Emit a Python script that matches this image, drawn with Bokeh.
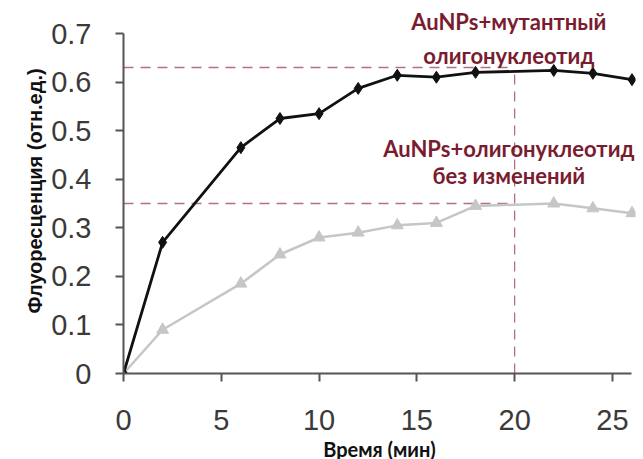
from bokeh.plotting import figure
from bokeh.models import Range1d, Label, FixedTicker
from bokeh.embed import file_html
from bokeh.resources import INLINE

# Data
time_min = [0, 2, 6, 8, 10, 12, 14, 16, 18, 22, 24, 26]
mutant = [0.0, 0.27, 0.465, 0.525, 0.535, 0.587, 0.614, 0.61, 0.62, 0.624, 0.618, 0.605]
unchanged = [0.0, 0.09, 0.185, 0.245, 0.28, 0.29, 0.305, 0.31, 0.345, 0.35, 0.34, 0.33]
ref_mutant = 0.63
ref_unchanged = 0.35
ref_time = 20
x_ticks = [0, 5, 10, 15, 20, 25]
y_ticks = [0, 0.1, 0.2, 0.3, 0.4, 0.5, 0.6, 0.7]
label_mutant = ["AuNPs+мутантный", "олигонуклеотид"]
label_unchanged = ["AuNPs+олигонуклеотид", "без изменений"]

p = figure(frame_width=512, frame_height=365, output_backend="svg", toolbar_location=None,
           x_range=Range1d(0, 26.18), y_range=Range1d(0, 0.7515),
           min_border_left=123, min_border_right=6, min_border_top=8, min_border_bottom=0)
p.outline_line_color = None
p.background_fill_color = "white"
p.xgrid.visible = False
p.ygrid.visible = False

axis_color = "#555555"
for ax in (p.xaxis[0], p.yaxis[0]):
    ax.axis_line_color = axis_color
    ax.axis_line_width = 2
    ax.major_tick_line_color = axis_color
    ax.major_tick_line_width = 2
    ax.major_tick_out = 8
    ax.major_tick_in = 0
    ax.minor_tick_line_color = None
    ax.major_label_text_font = "Liberation Sans"
    ax.major_label_text_font_size = "29px"
    ax.major_label_text_color = "#3a3a3a"
    ax.axis_label_text_font = "Liberation Sans"
    ax.axis_label_text_font_style = "bold"
    ax.axis_label_text_color = "#111111"

p.xaxis.bounds = (0, 26)
p.yaxis.bounds = (0, 0.7)
p.xaxis.ticker = FixedTicker(ticks=x_ticks)
p.yaxis.ticker = FixedTicker(ticks=y_ticks)
p.yaxis.major_label_overrides = {0: "0"}
p.xaxis.major_label_standoff = 28
p.yaxis.major_label_standoff = 24

p.xaxis.axis_label = "Время (мин)"
p.xaxis.axis_label_text_font = "Lato"
p.xaxis.axis_label_text_font_size = "20px"
p.xaxis.axis_label_standoff = 4
p.yaxis.axis_label = "Флуоресценция (отн.ед.)"
p.yaxis.axis_label_text_font_size = "20px"
p.yaxis.axis_label_standoff = 2

# reference dashed lines
dash_color = "#b5707e"
p.segment(x0=[0, 0], y0=[ref_mutant, ref_unchanged], x1=[ref_time, ref_time],
          y1=[ref_mutant, ref_unchanged], line_color=dash_color, line_width=1.3,
          line_dash="10 7")
p.segment(x0=[ref_time], y0=[0], x1=[ref_time], y1=[ref_mutant],
          line_color=dash_color, line_width=1.3, line_dash="10 7")

# series
p.line(time_min, unchanged, line_color="#c6c6c6", line_width=2.5)
p.scatter(time_min, unchanged, marker="triangle", size=12, fill_color="#c6c6c6",
          line_color="#c6c6c6")
p.line(time_min, mutant, line_color="#111111", line_width=2.8)
p.scatter(time_min, mutant, marker="diamond", size=12, fill_color="#111111",
          line_color="#111111")

text_color = "#7a1c30"
ys = [0.7243, 0.6543, 0.4628, 0.4072]
texts = label_mutant + label_unchanged
for t, yy in zip(texts, ys):
    lbl = Label(x=19.7, y=yy, text=t, text_align="center",
                text_baseline="alphabetic", text_font="Lato",
                text_font_style="bold", text_font_size="22px",
                text_color=text_color)
    p.add_layout(lbl)

open("out.html", "w").write(file_html(p, INLINE))
